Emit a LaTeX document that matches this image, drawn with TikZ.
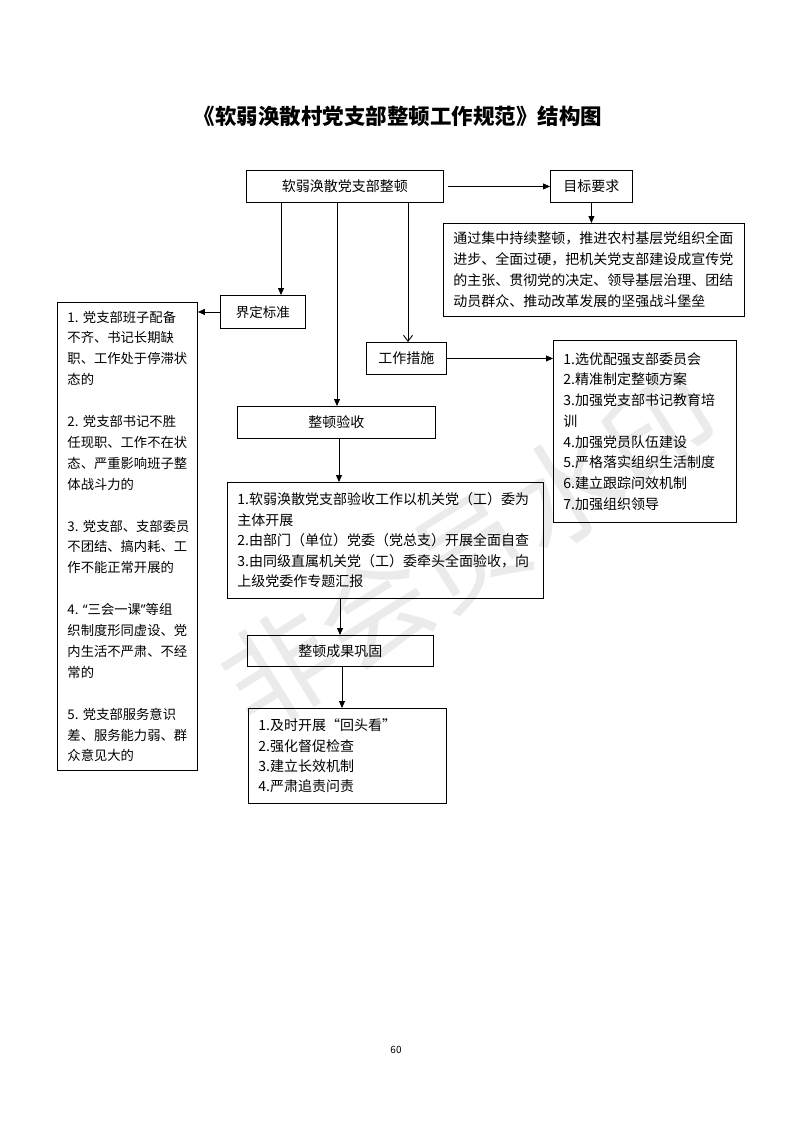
\documentclass[tikz,border=0pt]{standalone}
\usepackage{fontspec}
\setmainfont{Noto Sans CJK SC}
\newfontfamily\xiyin{Noto Sans}
\usetikzlibrary{arrows.meta}

\tikzset{
  kuang/.style={draw, line width=0.9pt, inner sep=0pt, anchor=north west,
    font=\fontsize{14pt}{21pt}\selectfont},
  wenben/.style={kuang, align=left, inner xsep=10pt},
  jt/.style={line width=0.9pt, -{Triangle[length=7pt,width=6pt]}},
  jtk/.style={line width=0.9pt, -{Straight Barb[length=6pt,width=9pt]}}
}

\begin{document}
\begin{tikzpicture}[x=1pt, y=-1pt]
    \useasboundingbox (0,0) rectangle (793,1122);

    % 水印
    \node[rotate=32, text=black!8, font=\fontsize{112pt}{112pt}\selectfont] (sy) at (470,550) {非会员水印};

    % 标题
    \node[font=\fontsize{21.5pt}{24pt}\selectfont\bfseries] (bt) at (398,116) {《软弱涣散村党支部整顿工作规范》结构图};

    % 第一层
    \node[kuang, minimum width=197pt, minimum height=32pt] (zd) at (246,170) {软弱涣散党支部整顿};
    \node[kuang, minimum width=82pt, minimum height=32pt] (mb) at (550,170) {目标要求};
    \node[wenben, text width=281pt, minimum height=93pt] (mbnr) at (443,223)
        {通过集中持续整顿，推进农村基层党组织全面\\
         进步、全面过硬，把机关党支部建设成宣传党\\
         的主张、贯彻党的决定、领导基层治理、团结\\
         动员群众、推动改革发展的坚强战斗堡垒};

    % 界定标准
    \node[kuang, minimum width=85pt, minimum height=33pt,
          font=\fontsize{13.5pt}{20pt}\selectfont] (jd) at (220,295) {界定标准};
    \node[wenben, text width=120pt, minimum height=468pt,
          font=\fontsize{13.3pt}{20.9pt}\selectfont] (bz) at (57,302)
        {1.~党支部班子配备\\
         不齐、书记长期缺\\
         职、工作处于停滞状\\
         态的\\[20.9pt]
         2.~党支部书记不胜\\
         任现职、工作不在状\\
         态、严重影响班子整\\
         体战斗力的\\[20.9pt]
         3.~党支部、支部委员\\
         不团结、搞内耗、工\\
         作不能正常开展的\\[20.9pt]
         4.~{\xiyin“}三会一课{\xiyin”}等组\\
         织制度形同虚设、党\\
         内生活不严肃、不经\\
         常的\\[20.9pt]
         5.~党支部服务意识\\
         差、服务能力弱、群\\
         众意见大的};

    % 工作措施
    \node[kuang, minimum width=80pt, minimum height=32pt] (cs) at (366,342) {工作措施};
    \node[wenben, text width=163pt, minimum height=182pt,
          font=\fontsize{14pt}{20.7pt}\selectfont] (csnr) at (553,340)
        {1.选优配强支部委员会\\
         2.精准制定整顿方案\\
         3.加强党支部书记教育培\\
         训\\
         4.加强党员队伍建设\\
         5.严格落实组织生活制度\\
         6.建立跟踪问效机制\\
         7.加强组织领导};

    % 整顿验收
    \node[kuang, minimum width=198pt, minimum height=32pt] (ys) at (237,406) {整顿验收};
    \node[wenben, text width=296pt, minimum height=116pt,
          font=\fontsize{14pt}{20.5pt}\selectfont] (ysnr) at (227,482)
        {1.软弱涣散党支部验收工作以机关党（工）委为\\
         主体开展\\
         2.由部门（单位）党委（党总支）开展全面自查\\
         3.由同级直属机关党（工）委牵头全面验收，向\\
         上级党委作专题汇报};

    % 整顿成果巩固
    \node[kuang, minimum width=186pt, minimum height=31pt] (gg) at (247,635) {整顿成果巩固};
    \node[wenben, text width=178pt, minimum height=95pt,
          font=\fontsize{14pt}{20.3pt}\selectfont] (ggnr) at (248,708)
        {1.及时开展“回头看”\\
         2.强化督促检查\\
         3.建立长效机制\\
         4.严肃追责问责};

    % 箭头
    \draw[jt] ([xshift=4pt]zd.east) -- (mb.west);
    \draw[jt] (mb.south) -- (mb.south |- mbnr.north);
    \draw[jt] (zd.south -| 281,0) -- (jd.north -| 281,0);
    \draw[jtk] (zd.south -| 408,0) -- (cs.north -| 408,0);
    \draw[jt] (zd.south -| 337,0) -- (ys.north -| 337,0);
    \draw[jt] (jd.west) -- (jd.west -| bz.east);
    \draw[jt] (cs.east) -- (cs.east -| csnr.west);
    \draw[jt] (ys.south -| 339,0) -- (ysnr.north -| 339,0);
    \draw[jt] (ysnr.south -| 340,0) -- (gg.north -| 340,0);
    \draw[jt] (gg.south -| 342,0) -- (ggnr.north -| 342,0);

    % 页码
    \node[font=\fontsize{10pt}{12pt}\selectfont] (ym) at (396,1050) {60};
\end{tikzpicture}
\end{document}
